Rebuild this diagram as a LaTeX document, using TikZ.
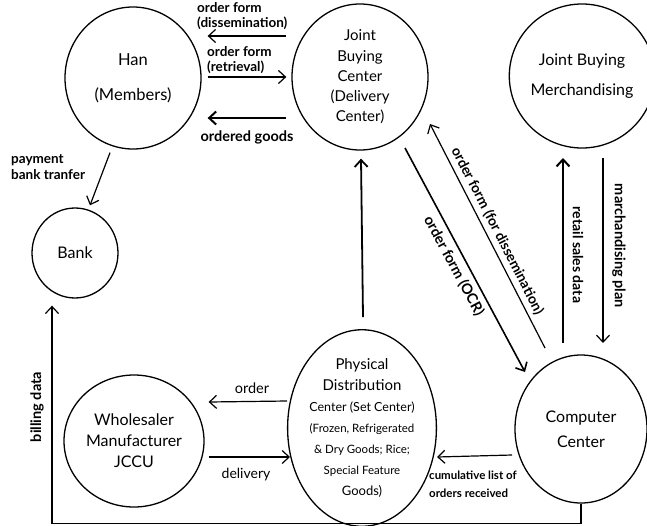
\documentclass[tikz,border=0pt]{standalone}
\usepackage{fontspec}
\setmainfont{Lato}
\usetikzlibrary{shapes.geometric,arrows.meta,calc}
\newcommand{\myfs}[2]{\fontsize{#1}{#2}\selectfont}
\begin{document}
\begin{tikzpicture}[x=1pt,y=-1pt,
  ent/.style={ellipse, draw, line width=1.3pt, inner sep=0pt, align=center},
  flow/.style={draw, line width=1.2pt, -{Straight Barb[length=7pt,width=13pt]}},
  lbl/.style={font=\bfseries\myfs{13.5}{15.5}, inner sep=0pt, align=left},
  plain/.style={font=\myfs{14.5}{16}, inner sep=0pt}]
\useasboundingbox (0,0) rectangle (647,525);

% entities
\node[ent, minimum width=136pt, minimum height=142pt, font=\myfs{16.5}{35}] (han) at (133,78) {Han\\(Members)};
\node[ent, minimum width=136pt, minimum height=146pt, font=\myfs{15}{20.3}] (jbc) at (360,77) {Joint\\Buying\\Center\\(Delivery\\Center)};
\node[ent, minimum width=128pt, minimum height=144pt, font=\myfs{16}{30}] (merch) at (582,76) {Joint Buying\\Merchandising};
\node[ent, minimum width=86pt, minimum height=90pt, font=\myfs{16}{20}] (bank) at (75,253) {Bank};
\node[ent, minimum width=140pt, minimum height=132pt, font=\myfs{16}{21}] (whole) at (134,441) {Wholesaler\\Manufacturer\\JCCU};
\node[ent, minimum width=140pt, minimum height=146pt, font=\myfs{15}{21}] (phys) at (362,428)
  {Physical\\Distribution\\{\myfs{12.5}{20}Center (Set Center)}\\{\myfs{11.5}{20}(Frozen, Refrigerated}\\{\myfs{11.5}{18}\& Dry Goods; Rice;}\\{\myfs{11.5}{18}Special Feature}\\{\myfs{13}{19}Goods)}};
\node[ent, minimum width=132pt, minimum height=148pt, font=\myfs{16}{25}] (comp) at (581,429) {Computer\\Center};

% Han <-> Joint Buying Center
\draw[flow] ($(jbc.west)+(-5,-41)$) -- ($(han.east)+(6,-42)$);
\node[lbl, anchor=west] (l1) at (197,16) {order form\\(dissemination)};
\draw[flow] ($(han.east)+(6,-1)$) -- ($(jbc.west)+(-5,0)$);
\node[lbl, anchor=west] (l2) at (207,60) {order form\\(retrieval)};
\draw[flow, line width=2pt] ($(jbc.west)+(-5,41)$) -- ($(han.east)+(6,40)$);
\node[lbl, font=\bfseries\myfs{14.5}{16}] (l3) at (247,137) {ordered goods};

% Han -> Bank
\draw[flow] ($(han.south)+(-23,3)$) -- ($(bank.north)+(15,-2)$);
\node[lbl, anchor=west] (l4) at (11,167) {payment\\bank tranfer};

% billing data
\draw[flow] (comp.south) -- ++(0,20) -| ($(bank.south)+(-23,7)$);
\node[lbl, font=\bfseries\myfs{14.5}{16}, rotate=90] (l5) at (37,407) {billing data};

% Physical -> JBC
\draw[flow, line width=1.8pt] ($(phys.north)+(1,-12)$) -- ($(jbc.south)+(1,8)$);

% JBC <-> Computer
\draw[flow, line width=1.6pt] ($(jbc)+(45,71)$) -- node[lbl, font=\bfseries\myfs{14.5}{16}, sloped, below=5pt, pos=0.5] (l6) {order form (OCR)} ($(comp)+(-56,-57)$);
\draw[flow] ($(comp)+(-36,-81)$) -- node[lbl, font=\bfseries\myfs{14}{16}, sloped, above=4pt, pos=0.5] (l7) {order form (for dissemination)} ($(jbc)+(70,47)$);

% Computer <-> Merchandising
\draw[flow, line width=2pt] ($(comp)+(-18,-86)$) -- ($(merch)+(-19,82)$);
\node[lbl, font=\bfseries\myfs{14}{16}, rotate=-90] (l8) at (578,255) {retail sales data};
\draw[flow] ($(merch)+(21,82)$) -- ($(comp)+(22,-86)$);
\node[lbl, font=\bfseries\myfs{14.5}{16}, rotate=-90] (l9) at (619,246) {marchandising plan};

% bottom flows
\draw[flow] ($(phys)+(-75,-27)$) -- ($(whole.east)+(4,-39)$);
\node[plain] (l10) at (252,388) {order};
\draw[flow] ($(whole.east)+(4,16)$) -- ($(phys)+(-72,29)$);
\node[plain, font=\myfs{14}{16}] (l11) at (246,475) {delivery};
\draw[flow] ($(comp)+(-69,26)$) -- ($(phys)+(75,29)$);
\node[lbl, font=\bfseries\myfs{11.5}{18}, anchor=west] (l12) at (429,484) {cumulative list of\\orders received};
\end{tikzpicture}
\end{document}
